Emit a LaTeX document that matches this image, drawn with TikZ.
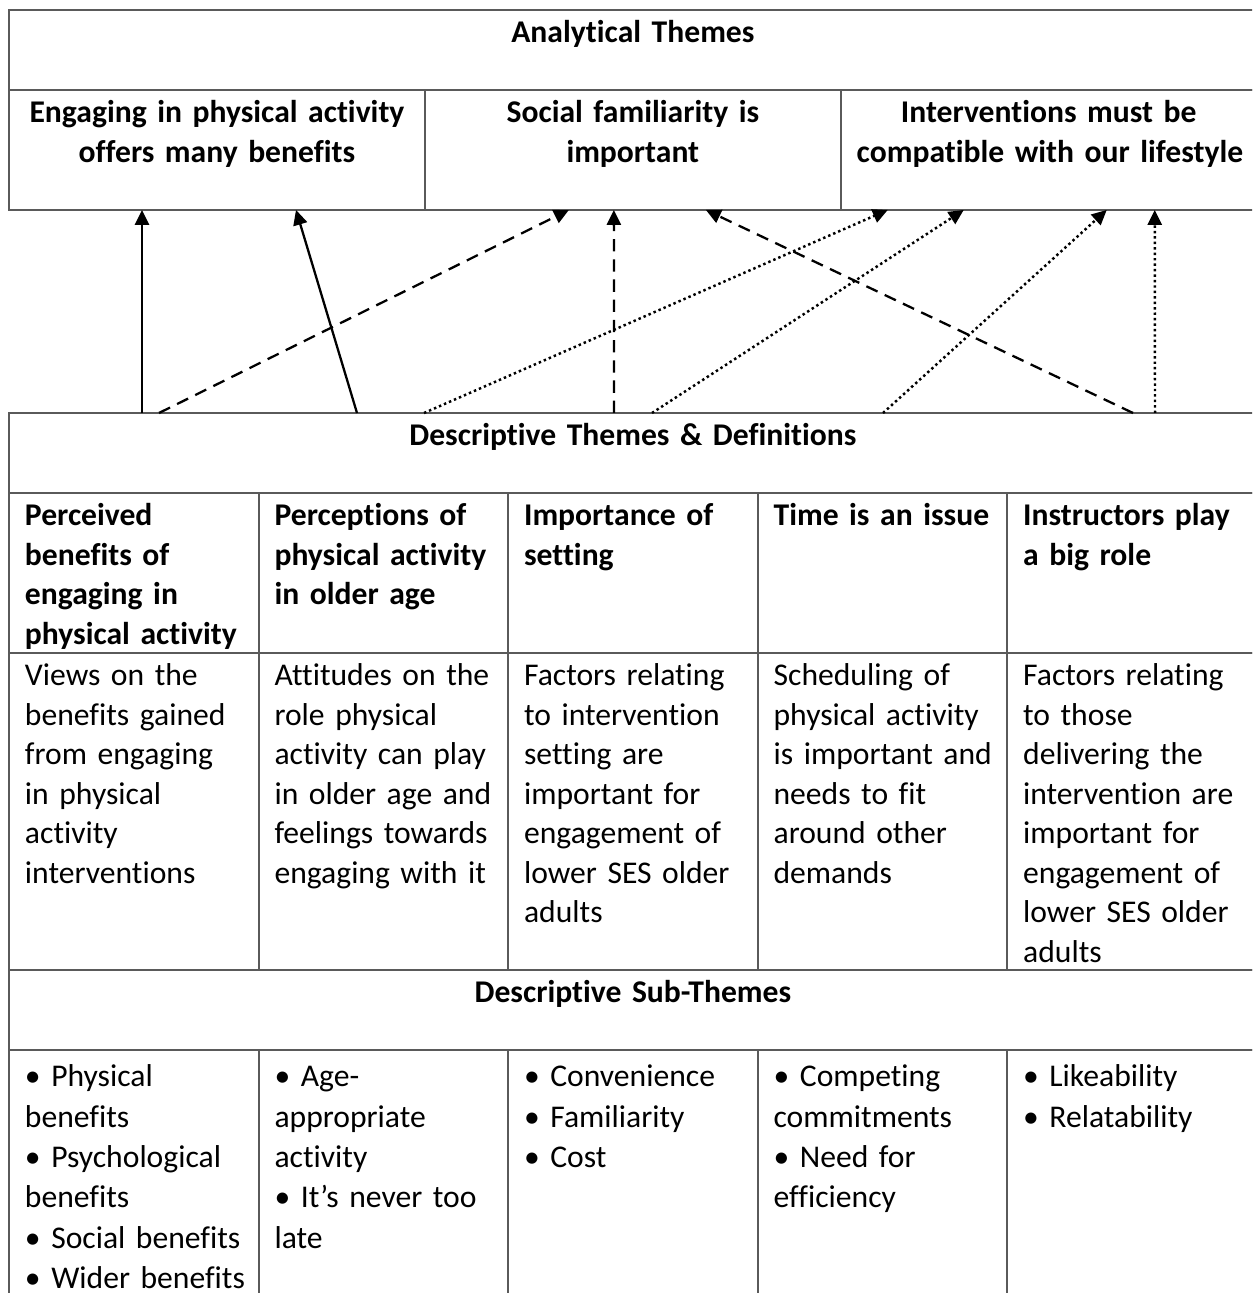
\documentclass[tikz,border=0pt]{standalone}
\usepackage{fontspec}
\setmainfont{Carlito}[Ligatures=NoCommon]
\usetikzlibrary{arrows.meta,calc}
\definecolor{linegray}{HTML}{5A5A5A}
\hyphenpenalty=10000
\exhyphenpenalty=10000
\newcommand{\defa}{Views on the\\benefits gained\\from engaging\\in physical\\activity\\interventions}
\newcommand{\defb}{Attitudes~on~the\\role physical\\activity~can~play\\in~older~age~and\\feelings~towards\\engaging~with~it}
\newcommand{\defc}{Factors relating\\to intervention\\setting are\\important for\\engagement~of\\lower~SES~older\\adults}
\newcommand{\defd}{Scheduling of\\physical~activity\\is~important~and\\needs to fit\\around other\\demands}
\newcommand{\defe}{Factors relating\\to those\\delivering the\\intervention~are\\important for\\engagement~of\\lower~SES~older\\adults}

\begin{document}
\begin{tikzpicture}[x=0.02cm,y=-0.02cm,
    any/.style={draw=linegray,line width=1.1pt,anchor=north west,outer sep=0pt,inner xsep=9.1pt,inner ysep=0pt,text height=18.6pt,font={\fontsize{18}{22.5}\selectfont}},
    wide/.style={any,text width=692pt,align=center,font={\fontsize{18}{22.5}\selectfont\bfseries},text depth=26.92pt},
    theme/.style={any,text width=218.5pt,align=center,font={\fontsize{18}{22.5}\selectfont\bfseries},text depth=49.69pt},
    header/.style={any,text width=123.83pt,align=left,font={\fontsize{18}{22.5}\selectfont\bfseries},text depth=72.45pt},
    defn/.style={any,text width=123.83pt,align=left,text depth=161.79pt},
    subt/.style={any,text width=123.83pt,align=left,font={\fontsize{18}{23}\selectfont},text height=21pt,text depth=150pt},
    link/.style={-{Triangle[length=8.5pt,width=8pt]},line width=1.3pt},
    linkdash/.style={link,dash pattern=on 7pt off 4.5pt},
    linkdot/.style={link,line width=1.4pt,dash pattern=on 1.4pt off 1.7pt}
]
\clip (0,0) rectangle (1252,1293);

\node[wide] (anhead) at (9,10) {Analytical Themes};
\node[theme] (an1) at (anhead.south west) {Engaging~in~physical~activity\\offers many benefits};
\node[theme] (an2) at (an1.north east) {Social familiarity is\\important};
\node[theme] (an3) at (an2.north east) {Interventions must be\\compatible~with~our~lifestyle};

\node[wide] (deschead) at (9,413) {Descriptive Themes \& Definitions};
\node[header] (d1) at (deschead.south west) {Perceived\\benefits of\\engaging in\\physical~activity};
\node[header] (d2) at (d1.north east) {Perceptions~of\\physical~activity\\in older age};
\node[header] (d3) at (d2.north east) {Importance~of\\setting};
\node[header] (d4) at (d3.north east) {Time~is~an~issue};
\node[header] (d5) at (d4.north east) {Instructors~play\\a big role};

\node[defn] (def1) at (d1.south west) {\defa};
\node[defn] (def2) at (def1.north east) {\defb};
\node[defn] (def3) at (def2.north east) {\defc};
\node[defn] (def4) at (def3.north east) {\defd};
\node[defn] (def5) at (def4.north east) {\defe};

\node[wide] (subhead) at (def1.south west) {Descriptive Sub-Themes};
\node[subt] (sub1) at (subhead.south west) {• Physical\\benefits\\• Psychological\\benefits\\•~Social~benefits\\•~Wider~benefits};
\node[subt] (sub2) at (sub1.north east) {• Age-\\appropriate\\activity\\•~It’s~never~too\\late};
\node[subt] (sub3) at (sub2.north east) {• Convenience\\• Familiarity\\• Cost};
\node[subt] (sub4) at (sub3.north east) {• Competing\\commitments\\• Need for\\efficiency};
\node[subt] (sub5) at (sub4.north east) {• Likeability\\• Relatability};

\draw[link] ($(deschead.north west)+(133,0)$) -- ($(an1.south west)+(133,0)$);
\draw[link] ($(deschead.north west)+(348,0)$) -- ($(an1.south west)+(287,0)$);
\draw[linkdash] ($(deschead.north west)+(150,0)$) -- ($(an2.south west)+(144,0)$);
\draw[linkdash] ($(deschead.north west)+(605,0)$) -- ($(an2.south west)+(189,0)$);
\draw[linkdash] ($(deschead.north west)+(1124,0)$) -- ($(an2.south west)+(281,0)$);
\draw[linkdot] ($(deschead.north west)+(415,0)$) -- ($(an3.south west)+(47,0)$);
\draw[linkdot] ($(deschead.north west)+(643,0)$) -- ($(an3.south west)+(123,0)$);
\draw[linkdot] ($(deschead.north west)+(874,0)$) -- ($(an3.south west)+(266,0)$);
\draw[linkdot] ($(deschead.north west)+(1146,0)$) -- ($(an3.south west)+(314,0)$);
\end{tikzpicture}
\end{document}
